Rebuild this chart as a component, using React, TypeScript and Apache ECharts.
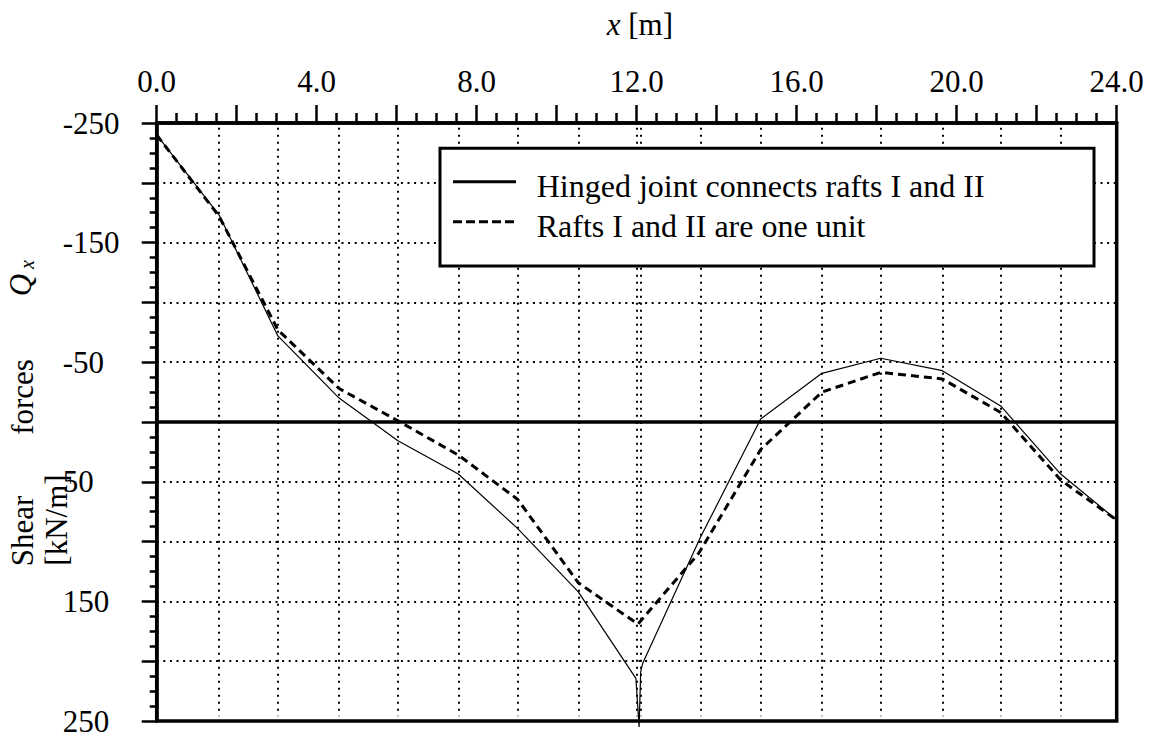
import React, { useEffect, useRef } from 'react';
import * as echarts from 'echarts';

const seriesNames = ['Hinged joint connects rafts I and II', 'Rafts I and II are one unit'];

// Hinged joint (solid, thin)
const hingedX = [0, 1.56, 3.03, 4.56, 6.03, 7.54, 9.02, 10.54, 11.98, 12.06, 12.1, 12.15, 13.6, 15.1, 16.63, 18.1, 19.64, 21.1, 22.6, 24];
const hingedQ = [-240, -173, -72, -20, 15.6, 43.5, 88.9, 142, 214.3, 255, 208.8, 201.8, 96, -2.5, -40.7, -53.3, -42.9, -13.4, 43.5, 82];

// One unit (dashed, thick)
const unitX = [0, 1.56, 3.03, 4.56, 6.03, 7.54, 9.02, 10.54, 12.03, 13.55, 15.1, 16.63, 18.1, 19.64, 21.1, 22.6, 24];
const unitQ = [-240, -172, -77, -28, -1, 27.6, 64.6, 134.4, 169, 109.8, 23, -25, -41.5, -36, -8, 48.5, 82];

// vertical dotted grid lines (at node positions)
const gridX = [1.56, 3.03, 4.56, 6.03, 7.54, 9.02, 10.54, 11.99, 12.1, 13.6, 15.1, 16.63, 18.1, 19.64, 21.1, 22.6];

const xLabelValues = [0, 4, 8, 12, 16, 20, 24];
const yLabelValues = [-250, -150, -50, 50, 150, 250];

const FONT = '"Liberation Serif", "Times New Roman", serif';
const FS = 31;

export default function App() {
  const ref = useRef<HTMLDivElement>(null);
  useEffect(() => {
    if (!ref.current) return;
    const chart = echarts.init(ref.current, undefined, { renderer: 'svg' });
    const txt = (text: string, x: number, y: number, extra: any = {}, style: any = {}) => ({
      type: 'text',
      x,
      y,
      z: 101,
      ...extra,
      style: {
        text,
        fontSize: FS,
        fontFamily: FONT,
        fill: '#000',
        align: 'center',
        verticalAlign: 'middle',
        ...style,
      },
    });
    const option: any = {
      animation: false,
      textStyle: { fontFamily: FONT },
      grid: {
        left: 156.7,
        right: 32.3,
        top: 123,
        bottom: 19,
        show: true,
        borderColor: '#000',
        borderWidth: 3.5,
        backgroundColor: 'transparent',
      },
      xAxis: {
        type: 'value',
        position: 'top',
        min: 0,
        max: 24,
        interval: 2,
        axisLine: { show: true, onZero: false, lineStyle: { color: '#000', width: 3.5 } },
        axisTick: { show: true, length: 18, lineStyle: { color: '#000', width: 2.5 } },
        minorTick: { show: true, splitNumber: 4, length: 10, lineStyle: { color: '#000', width: 2.5 } },
        splitLine: { show: false },
        axisLabel: {
          color: '#000',
          fontSize: FS,
          fontFamily: FONT,
          margin: 26,
          formatter: (v: number) => (xLabelValues.includes(v) ? v.toFixed(1) : ''),
        },
      },
      yAxis: {
        type: 'value',
        inverse: true,
        min: -250,
        max: 250,
        interval: 50,
        axisLine: { show: true, onZero: false, lineStyle: { color: '#000', width: 3.5 } },
        axisTick: { show: true, length: 15, lineStyle: { color: '#000', width: 2.5 } },
        minorTick: { show: true, splitNumber: 4, length: 7, lineStyle: { color: '#000', width: 2.5 } },
        splitLine: { show: true, lineStyle: { color: '#000', width: 2, type: [2, 4.6] } },
        axisLabel: {
          color: '#000',
          fontSize: FS,
          fontFamily: FONT,
          align: 'left',
          margin: 94,
          formatter: (v: number) => (yLabelValues.includes(v) ? String(v) : ''),
        },
      },
      series: [
        {
          name: seriesNames[0],
          type: 'line',
          data: hingedX.map((x, i) => [x, hingedQ[i]]),
          symbol: 'none',
          clip: false,
          z: 4,
          lineStyle: { color: '#000', width: 1.2 },
          markLine: {
            silent: true,
            symbol: 'none',
            label: { show: false },
            lineStyle: { color: '#000', width: 2, type: [2, 5] },
            data: gridX.map((x) => [{ coord: [x, -246] }, { coord: [x, 246] }]),
          },
        },
        {
          name: seriesNames[1],
          type: 'line',
          data: unitX.map((x, i) => [x, unitQ[i]]),
          symbol: 'none',
          clip: false,
          z: 5,
          lineStyle: { color: '#000', width: 3, type: [8, 5] },
          markLine: {
            silent: true,
            symbol: 'none',
            label: { show: false },
            lineStyle: { color: '#000', width: 3.5, type: 'solid' },
            data: [{ yAxis: 0 }],
          },
        },
      ],
      graphic: [
        // axis titles
        txt('x', 606.7, 24, {}, { align: 'left', fontStyle: 'italic' }),
        txt('[m]', 628.3, 24, {}, { align: 'left' }),
        txt('Shear', 22.5, 531, { rotation: Math.PI / 2 }),
        txt('forces', 22.5, 397, { rotation: Math.PI / 2 }),
        txt('Q', 20.5, 285, { rotation: Math.PI / 2 }, { fontStyle: 'italic' }),
        txt('x', 26.5, 264.5, { rotation: Math.PI / 2 }, { fontStyle: 'italic', fontSize: 20 }),
        txt('[kN/m]', 56.5, 520, { rotation: Math.PI / 2 }),
        // legend
        {
          type: 'rect',
          z: 100,
          shape: { x: 440, y: 148.3, width: 654, height: 117.7 },
          style: { fill: '#fff', stroke: '#000', lineWidth: 3 },
        },
        {
          type: 'line',
          z: 101,
          shape: { x1: 453, y1: 181.7, x2: 516, y2: 181.7 },
          style: { stroke: '#000', lineWidth: 3 },
        },
        {
          type: 'line',
          z: 101,
          shape: { x1: 453, y1: 221.7, x2: 516, y2: 221.7 },
          style: { stroke: '#000', lineWidth: 3, lineDash: [9, 4] },
        },
        txt(seriesNames[0], 536.7, 186, {}, { align: 'left', fontSize: 32 }),
        txt(seriesNames[1], 536.7, 226, {}, { align: 'left', fontSize: 32 }),
      ],
    };
    chart.setOption(option);
    return () => chart.dispose();
  }, []);
  return (
    <div
      ref={ref}
      style={{ position: 'fixed', left: 0, top: 0, width: 1149, height: 740, background: '#fff' }}
    />
  );
}
